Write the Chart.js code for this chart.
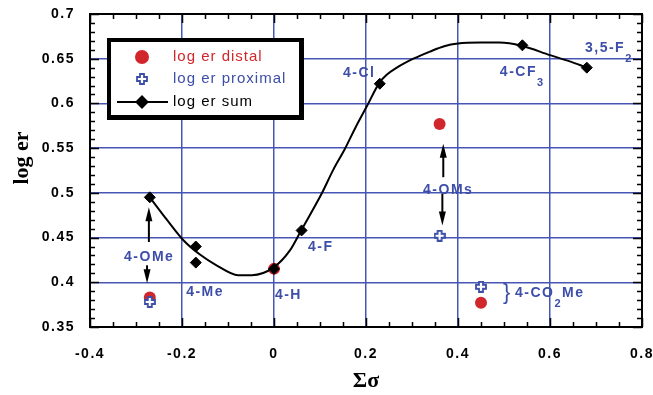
<!doctype html>
<html lang="en">
<head>
  <meta charset="utf-8">
  <title>log er vs Σσ</title>
  <script src="https://cdn.jsdelivr.net/npm/chart.js@4.4.1/dist/chart.umd.min.js"></script>
  <style>
    body { margin: 0; background: #fff; }
    #wrap { width: 653px; height: 395px; }
  </style>
</head>
<body>
  <div id="wrap"><canvas id="myChart" width="653" height="395"></canvas></div>
  <script>
    // data
    const sigmaSum = [-0.27, -0.17, -0.17, 0, 0.06, 0.23, 0.54, 0.68];
    const logErSum = [0.495, 0.440, 0.422, 0.415, 0.458, 0.622, 0.665, 0.640];

    const sigmaDistal = [-0.27, 0, 0.36, 0.45];
    const logErDistal = [0.383, 0.415, 0.577, 0.377];

    const sigmaProximal = [-0.27, 0.36, 0.45];
    const logErProximal = [0.378, 0.452, 0.395];

    // fitted curve
    const fitSigma = [-0.27, -0.233, -0.197, -0.161, -0.125, -0.078, -0.048, 0, 0.035, 0.058, 0.104, 0.129,
      0.154, 0.178, 0.203, 0.229, 0.245, 0.267, 0.303, 0.339, 0.37, 0.4, 0.448, 0.49, 0.538, 0.6, 0.643, 0.68];
    const fitLogEr = [0.495, 0.47, 0.447, 0.431, 0.419, 0.408, 0.408, 0.417, 0.436, 0.457, 0.4995, 0.526,
      0.549, 0.574, 0.598, 0.623, 0.632, 0.640, 0.650, 0.658, 0.664, 0.667, 0.668, 0.668, 0.6645, 0.654, 0.647, 0.640];

    const xTickValues = [-0.4, -0.2, 0, 0.2, 0.4, 0.6, 0.8];
    const xTickLabels = ['-0.4', '-0.2', '0', '0.2', '0.4', '0.6', '0.8'];
    const yTickValues = [0.35, 0.4, 0.45, 0.5, 0.55, 0.6, 0.65, 0.7];
    const yTickLabels = ['0.35', '0.4', '0.45', '0.5', '0.55', '0.6', '0.65', '0.7'];

    const RED = '#d0262c';
    const BLUE = '#3d4ea8';
    const GRID = '#4756b4';

    // substituent labels: [x, y, text, subscript, after]
    const labels = [
      [-0.326, 0.428, '4-OMe'],
      [-0.191, 0.389, '4-Me'],
      [0.002, 0.386, '4-H'],
      [0.074, 0.4395, '4-F'],
      [0.15, 0.634, '4-Cl'],
      [0.491, 0.635, '4-CF', '3'],
      [0.676, 0.662, '3,5-F', '2'],
      [0.324, 0.503, '4-OMs'],
      [0.524, 0.388, '4-CO', '2', 'Me']
    ];
    // arrows: [x, from, tip]
    const arrows = [
      [-0.272, 0.445, 0.484],
      [-0.276, 0.419, 0.399],
      [0.368, 0.5175, 0.555],
      [0.366, 0.499, 0.4635]
    ];

    function toXY(xs, ys) {
      return xs.map((x, i) => ({ x: x, y: ys[i] }));
    }

    // hollow plus marker for "proximal"
    const plusMark = document.createElement('canvas');
    plusMark.width = 12; plusMark.height = 12;
    (function () {
      const c = plusMark.getContext('2d');
      c.beginPath();
      c.moveTo(4, 1); c.lineTo(8, 1); c.lineTo(8, 4); c.lineTo(11, 4); c.lineTo(11, 8); c.lineTo(8, 8);
      c.lineTo(8, 11); c.lineTo(4, 11); c.lineTo(4, 8); c.lineTo(1, 8); c.lineTo(1, 4); c.lineTo(4, 4);
      c.closePath();
      c.fillStyle = '#fff';
      c.fill();
      c.lineWidth = 1.8;
      c.strokeStyle = BLUE;
      c.stroke();
    })();

    const decor = {
      id: 'decor',
      beforeDraw(chart) {
        chart.ctx.letterSpacing = '1.5px';
      },
      afterDraw(chart) {
        const ctx = chart.ctx;
        const xs = chart.scales.x, ys = chart.scales.y;
        const a = chart.chartArea;
        ctx.save();

        // minor / major ticks, inside, all four sides
        ctx.strokeStyle = '#000';
        ctx.lineWidth = 1.5;
        ctx.beginPath();
        for (let i = 0; i <= 24; i++) {
          const v = -0.4 + i * 0.05;
          const px = Math.round(xs.getPixelForValue(v)) + 0.5;
          const len = i % 4 === 0 ? 9 : 5;
          ctx.moveTo(px, a.bottom); ctx.lineTo(px, a.bottom - len);
          ctx.moveTo(px, a.top); ctx.lineTo(px, a.top + len);
        }
        for (let i = 0; i <= 35; i++) {
          const v = 0.35 + i * 0.01;
          const py = Math.round(ys.getPixelForValue(v)) + 0.5;
          const len = i % 5 === 0 ? 9 : 5;
          ctx.moveTo(a.left, py); ctx.lineTo(a.left + len, py);
          ctx.moveTo(a.right, py); ctx.lineTo(a.right - len, py);
        }
        ctx.stroke();

        // frame
        ctx.lineWidth = 2;
        ctx.strokeRect(a.left, a.top, a.right - a.left, a.bottom - a.top);

        // arrows
        ctx.fillStyle = '#000';
        arrows.forEach(([x, y0, y1]) => {
          const px = xs.getPixelForValue(x);
          const p0 = ys.getPixelForValue(y0), p1 = ys.getPixelForValue(y1);
          const dir = p1 < p0 ? 1 : -1;
          ctx.lineWidth = 2;
          ctx.beginPath();
          ctx.moveTo(px, p0); ctx.lineTo(px, p1 + dir * 10);
          ctx.stroke();
          ctx.beginPath();
          ctx.moveTo(px, p1);
          ctx.lineTo(px - 3.5, p1 + dir * 14);
          ctx.lineTo(px + 3.5, p1 + dir * 14);
          ctx.closePath();
          ctx.fill();
        });

        // substituent labels
        ctx.fillStyle = BLUE;
        ctx.textBaseline = 'middle';
        ctx.textAlign = 'left';
        labels.forEach(([x, y, txt, sub, after]) => {
          let px = xs.getPixelForValue(x);
          const py = ys.getPixelForValue(y);
          ctx.font = 'bold 14px "Liberation Sans"';
          ctx.fillText(txt, px, py);
          px += ctx.measureText(txt).width;
          if (sub) {
            ctx.font = 'bold 11px "Liberation Sans"';
            ctx.fillText(sub, px, py + 11);
            px += ctx.measureText(sub).width;
          }
          if (after) {
            ctx.font = 'bold 14px "Liberation Sans"';
            ctx.fillText(after, px, py);
          }
        });
        // brace for 4-CO2Me
        ctx.font = '22px "Liberation Sans"';
        ctx.letterSpacing = '0px';
        ctx.fillText('}', xs.getPixelForValue(0.498), ys.getPixelForValue(0.388));

        // legend box
        ctx.fillStyle = '#000';
        ctx.fillRect(107, 38, 197, 82);
        ctx.fillStyle = '#fff';
        ctx.fillRect(111, 42, 188, 73);
        const ds = chart.data.datasets;
        const rows = [
          [ds[3], 57, RED],
          [ds[2], 79, BLUE],
          [ds[0], 102, '#000']
        ];
        ctx.letterSpacing = '1px';
        rows.forEach(([d, y, col]) => {
          if (d === ds[0]) {
            ctx.strokeStyle = '#000';
            ctx.lineWidth = 2;
            ctx.beginPath();
            ctx.moveTo(117, y); ctx.lineTo(168, y);
            ctx.stroke();
          }
          ctx.fillStyle = d.backgroundColor;
          ctx.strokeStyle = d.borderColor;
          Chart.helpers.drawPoint(ctx, {
            pointStyle: d.pointStyle, radius: d.pointRadius, borderWidth: 1,
            rotation: 0
          }, 142, y);
          ctx.fillStyle = col;
          ctx.font = '15px "Liberation Sans"';
          ctx.textBaseline = 'middle';
          ctx.fillText(d.label, 173, y);
        });

        // axis titles
        ctx.letterSpacing = '0px';
        ctx.fillStyle = '#000';
        ctx.font = 'bold 22px "Liberation Serif"';
        ctx.textAlign = 'center';
        ctx.fillText('Σσ', (a.left + a.right) / 2, 381);
        ctx.translate(22, 158);
        ctx.rotate(-Math.PI / 2);
        ctx.fillText('log er', 0, 0);

        ctx.restore();
      }
    };

    Chart.defaults.font.family = '"Liberation Sans", Arial, sans-serif';
    Chart.defaults.color = '#000';

    const config = {
      type: 'scatter',
      data: {
        datasets: [
          {
            label: 'log er sum',
            data: toXY(sigmaSum, logErSum),
            pointStyle: 'rectRot',
            pointRadius: 5.5,
            backgroundColor: '#000',
            borderColor: '#000',
            borderWidth: 1
          },
          {
            label: 'fit',
            type: 'line',
            data: toXY(fitSigma, fitLogEr),
            showLine: true,
            pointRadius: 0,
            borderColor: '#000',
            borderWidth: 2,
            cubicInterpolationMode: 'monotone',
            fill: false
          },
          {
            label: 'log er proximal',
            data: toXY(sigmaProximal, logErProximal),
            pointStyle: plusMark,
            pointRadius: 5,
            backgroundColor: BLUE,
            borderColor: BLUE
          },
          {
            label: 'log er distal',
            data: toXY(sigmaDistal, logErDistal),
            pointStyle: 'circle',
            pointRadius: 6,
            backgroundColor: RED,
            borderColor: RED,
            borderWidth: 0
          }
        ]
      },
      options: {
        responsive: false,
        animation: false,
        layout: { padding: { left: 0, top: 14, right: 11, bottom: 0 } },
        plugins: { legend: { display: false }, tooltip: { enabled: false } },
        scales: {
          x: {
            type: 'linear',
            min: -0.4,
            max: 0.8,
            afterBuildTicks: s => { s.ticks = xTickValues.map(v => ({ value: v })); },
            afterFit: s => { s.height = 68; s.paddingLeft = 0; s.paddingRight = 0; },
            ticks: {
              callback: (v, i) => xTickLabels[i],
              font: { size: 14, weight: 'bold' },
              padding: 19,
              maxRotation: 0
            },
            grid: { color: GRID, lineWidth: 1.5, drawTicks: false },
            border: { display: false }
          },
          y: {
            type: 'linear',
            min: 0.35,
            max: 0.7,
            afterBuildTicks: s => { s.ticks = yTickValues.map(v => ({ value: v })); },
            afterFit: s => { s.width = 90; s.paddingTop = 0; s.paddingBottom = 0; },
            ticks: {
              callback: (v, i) => yTickLabels[i],
              font: { size: 14, weight: 'bold' },
              padding: 15
            },
            grid: { color: GRID, lineWidth: 1.5, drawTicks: false },
            border: { display: false }
          }
        }
      },
      plugins: [decor]
    };

    const myChart = new Chart(document.getElementById('myChart').getContext('2d'), config);
  </script>
</body>
</html>
